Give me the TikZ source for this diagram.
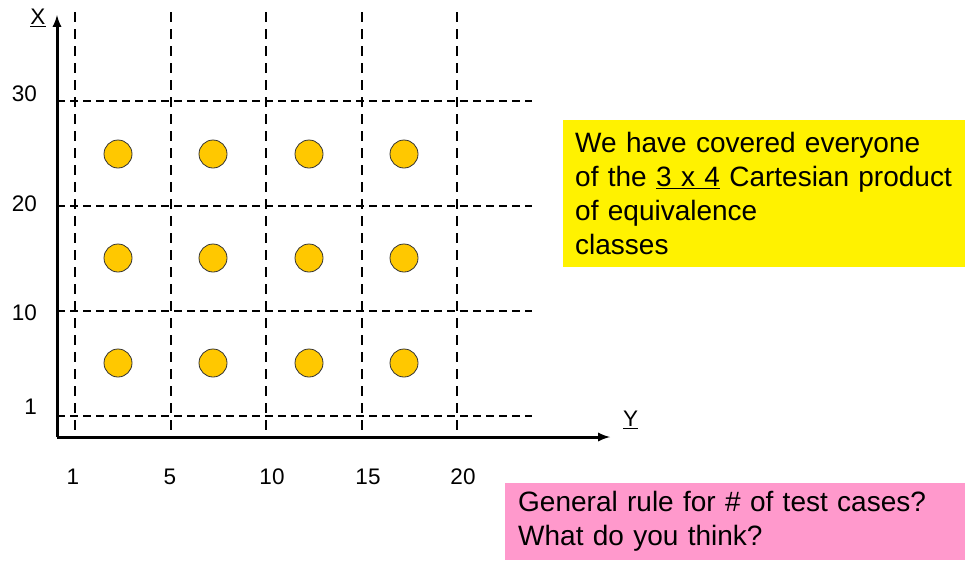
\documentclass[tikz,border=0pt]{standalone}
\usepackage{fontspec}
\setmainfont{Liberation Sans}
\usetikzlibrary{arrows,positioning}

\begin{document}
\begin{tikzpicture}[
  x=1pt, y=-1pt,
  axis/.style={->, >=latex, line width=3pt},
  grid/.style={line width=1.6pt, dash pattern=on 8pt off 5pt},
  vgrid/.style={line width=1.6pt, dash pattern=on 10pt off 7pt},
  dot/.style={circle, draw=black!80, line width=0.8pt, fill={rgb,255:red,255;green,200;blue,0}, minimum size=28pt, inner sep=0pt},
  tick/.style={font=\fontsize{22.5}{26}\selectfont, inner sep=0pt},
  note/.style={anchor=north west, align=left, font=\fontsize{28}{34}\selectfont, inner ysep=0pt}
]
  \useasboundingbox (0,0) rectangle (965,560);
  % Axes
  \coordinate (o) at (57,437);
  \coordinate (xtop) at (57,15);
  \coordinate (yend) at (610,437);
  % Grid: vertical lines
  \foreach \gx/\lx/\gy in {75/73/1, 171/170/5, 266/272/10, 362/368/15, 457/463/20} {
    \coordinate (v\gy) at (\gx,12);
    \draw[vgrid] (v\gy) -- (v\gy |- o);
    \node[tick] (ylab\gy) at (\lx,477) {\gy};
  }
  % Grid: horizontal lines
  \foreach \gy/\gx in {101/30, 206/20, 311/10, 416/1} {
    \coordinate (h\gx) at (532,\gy);
    \draw[grid] (o |- h\gx) -- (h\gx);
  }
  \node[tick, anchor=east] (xlab30) at (37,94) {30};
  \node[tick, anchor=east] (xlab20) at (37,204) {20};
  \node[tick, anchor=east] (xlab10) at (37,313) {10};
  \node[tick, anchor=east] (xlab1) at (37,407) {1};
  \draw[axis] (o) -- (xtop);
  \draw[axis] (o) -- (yend);
  \node[tick] (xname) at (38,18) {\underline{X}};
  \node[tick, right=13pt of yend, yshift=17pt] (yname) {\underline{Y}};
  % Test cases
  \foreach \i/\cx in {1/118, 2/213, 3/309, 4/404} {
    \foreach \j/\cy in {1/154, 2/258, 3/363} {
      \node[dot] (dot-\i-\j) at (\cx,\cy) {};
    }
  }
  % Notes
  \node[note, fill=yellow, inner xsep=12pt, text width=378pt, minimum height=147pt] (cover) at (563,120)
    {We have covered everyone\\of the \underline{3 x 4} Cartesian product\\of equivalence\\classes};
  \node[note, fill={rgb,255:red,255;green,153;blue,204}, inner xsep=13pt, text width=434pt, minimum height=77pt] (rule) at (505,483)
    {General rule for \# of test cases?\\What do you think?};
\end{tikzpicture}
\end{document}
